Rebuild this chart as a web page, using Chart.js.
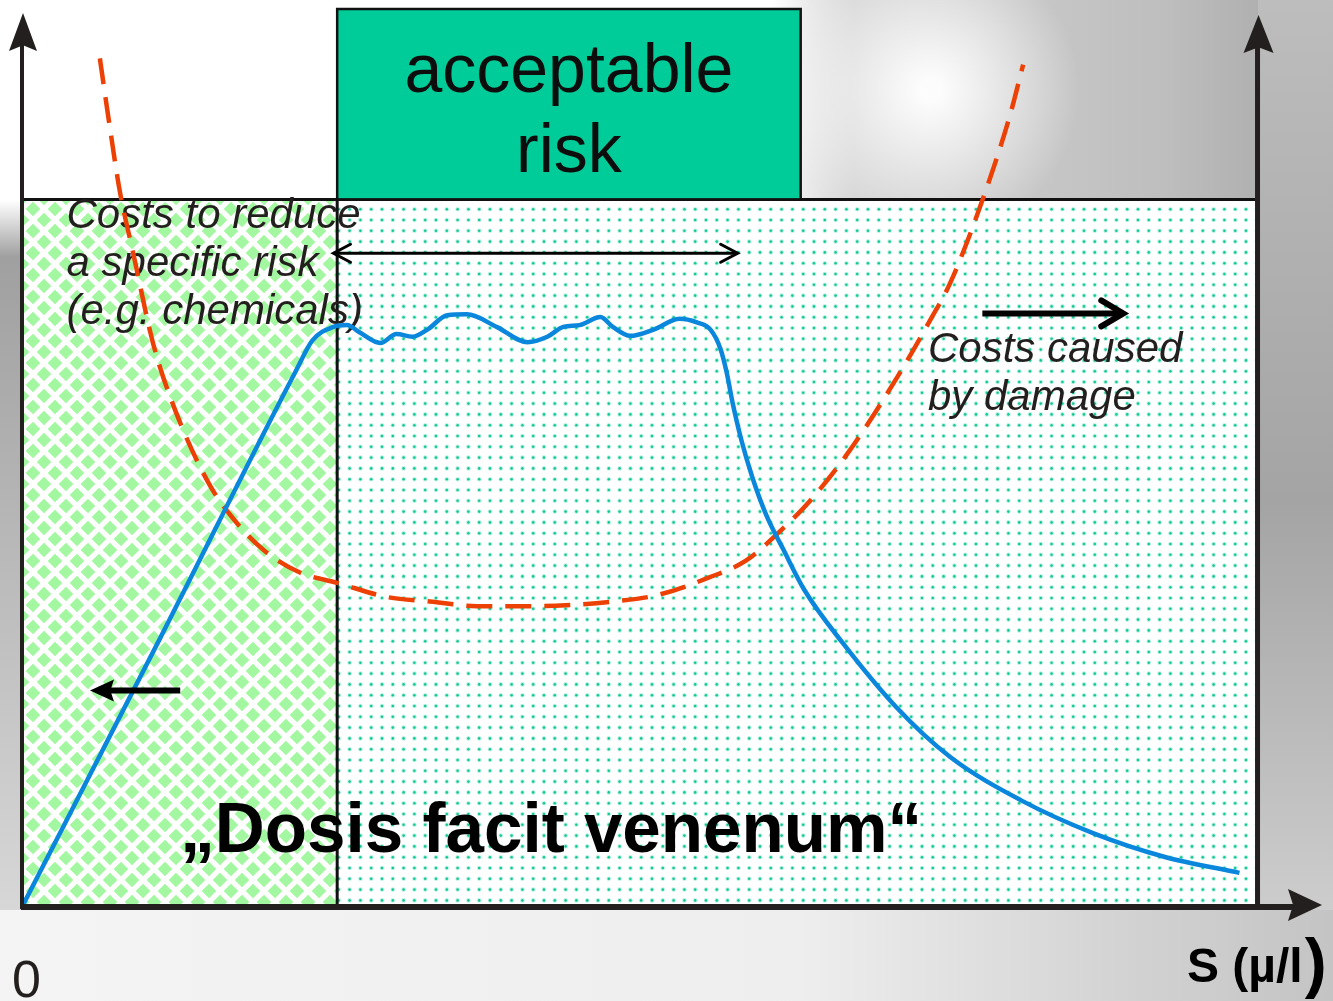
<!DOCTYPE html>
<html>
<head>
<meta charset="utf-8">
<script src="https://cdn.jsdelivr.net/npm/chart.js@4.4.1/dist/chart.umd.min.js"></script>
<style>
    html, body { margin: 0; padding: 0; background: #fff; }
</style>
</head>
<body>
<canvas id="riskChart" width="1333" height="1001"></canvas>
<script>
// Dose-response curve (blue): concentration S against effect
const doseS = [0, 11.2, 22.2, 23.5, 25.2, 26.3, 27.3, 29.0, 30.3, 31.6, 32.8, 34.4, 36.0, 38.4, 40.9, 42.5, 43.8, 45.1, 46.8, 47.8, 49.2, 51.1, 53.2, 54.6, 55.7, 56.5, 57.0, 57.5, 58.2, 59.1, 60.2, 61.6, 63.3, 66.4, 70.7, 75.1, 80.8, 86.7, 92.4, 98.5];
const doseLevel = [0, 30.0, 59.8, 63.1, 64.6, 64.8, 64.0, 62.8, 63.8, 63.5, 64.3, 65.9, 66.0, 64.6, 62.9, 63.5, 64.6, 64.8, 65.7, 64.6, 63.6, 64.3, 65.5, 65.1, 64.3, 62.2, 59.6, 56.1, 52.0, 47.8, 43.7, 39.8, 35.3, 29.4, 22.3, 16.7, 11.9, 8.2, 5.6, 3.8];

// Total cost curve (red, dashed)
const costS = [6.3, 7.1, 7.9, 9.0, 10.6, 12.4, 15.1, 17.0, 19.5, 22.4, 25.5, 29.6, 33.2, 36.8, 40.5, 44.0, 47.7, 51.3, 55.6, 58.6, 61.3, 63.8, 67.0, 70.9, 73.5, 75.1, 77.7, 79.9, 81.0];
const costLevel = [94.5, 86.9, 79.8, 72.8, 62.8, 55.3, 47.2, 43.4, 39.8, 37.3, 36.1, 34.5, 34.0, 33.5, 33.5, 33.6, 34.0, 34.7, 36.7, 38.6, 41.8, 45.3, 50.9, 59.2, 65.4, 69.5, 78.7, 88.0, 93.8];

// Zones along S: cost of reduction (left) and cost of damage (right)
const zoneStart = [0, 25.5];
const zoneEnd = [25.5, 99.8];
const zoneCeiling = 78.8;

// Acceptable risk window [from, to] on S, and the range arrow level
const acceptRange = [25.5, 63.0];
const acceptArrow = [25.2, 57.9];
const acceptArrowLevel = 72.8;

// Texts
const acceptLabel = ['acceptable', 'risk'];
const reduceLabel = ['Costs to reduce', 'a specific risk', '(e.g. chemicals)'];
const damageLabel = ['Costs caused', 'by damage'];
const mottoLabel = '\u201eDosis facit venenum\u201c';
const xAxisLabel = ['S (\u00b5/l', ')'];
const originLabel = '0';

const INK = '#231F1E';
const FONT = '"Liberation Sans", Arial, sans-serif';

function makeDiamondPattern(ctx) {
    const c = document.createElement('canvas');
    c.width = 22; c.height = 22;
    const p = c.getContext('2d');
    p.fillStyle = '#ffffff';
    p.fillRect(0, 0, 22, 22);
    p.fillStyle = '#a2f7a0';
    const diamond = (cx, cy, r) => {
        p.beginPath();
        p.moveTo(cx, cy - r); p.lineTo(cx + r, cy); p.lineTo(cx, cy + r); p.lineTo(cx - r, cy);
        p.closePath(); p.fill();
    };
    [[11, 11], [0, 0], [22, 0], [0, 22], [22, 22]].forEach(([cx, cy]) => diamond(cx, cy, 7.3));
    return ctx.createPattern(c, 'repeat');
}

function makeDotPattern(ctx) {
    const s = 10.8;
    const c = document.createElement('canvas');
    c.width = 54; c.height = 54;
    const p = c.getContext('2d');
    p.fillStyle = '#ffffff';
    p.fillRect(0, 0, 54, 54);
    for (let i = 0; i < 5; i++) {
        for (let j = 0; j < 5; j++) {
            const cx = 4 + i * s, cy = 4 + j * s;
            p.fillStyle = 'rgba(40,215,165,0.3)';
            p.beginPath(); p.arc(cx, cy, 2.3, 0, Math.PI * 2); p.fill();
            p.fillStyle = '#16c896';
            p.beginPath(); p.arc(cx, cy, 1.3, 0, Math.PI * 2); p.fill();
        }
    }
    return ctx.createPattern(c, 'repeat');
}

// Rough grey "photo" backdrop around the diagram
function paintBackdrop(ctx, w, h) {
    ctx.fillStyle = '#ffffff';
    ctx.fillRect(0, 0, w, h);

    let g = ctx.createLinearGradient(770, 0, w, 0);
    g.addColorStop(0, 'rgba(205,205,205,0)');
    g.addColorStop(0.15, 'rgba(205,205,205,0.9)');
    g.addColorStop(0.7, 'rgba(190,190,190,1)');
    g.addColorStop(1, 'rgba(165,165,165,1)');
    ctx.fillStyle = g;
    ctx.fillRect(770, 0, w - 770, 200);

    g = ctx.createRadialGradient(930, 90, 10, 930, 90, 150);
    g.addColorStop(0, 'rgba(255,255,255,0.95)');
    g.addColorStop(1, 'rgba(255,255,255,0)');
    ctx.fillStyle = g;
    ctx.fillRect(770, 0, 400, 200);

    g = ctx.createLinearGradient(0, 0, 0, h);
    g.addColorStop(0, '#bdbdbd');
    g.addColorStop(0.5, '#a4a4a4');
    g.addColorStop(1, '#d6d6d6');
    ctx.fillStyle = g;
    ctx.fillRect(1258, 0, w - 1258, h);

    g = ctx.createLinearGradient(0, 200, 0, 910);
    g.addColorStop(0, 'rgba(160,160,160,0)');
    g.addColorStop(0.08, 'rgba(160,160,160,1)');
    g.addColorStop(0.5, 'rgba(185,185,185,1)');
    g.addColorStop(1, 'rgba(215,215,215,1)');
    ctx.fillStyle = g;
    ctx.fillRect(0, 200, 22, 710);

    g = ctx.createLinearGradient(0, 0, w, 0);
    g.addColorStop(0, '#f4f4f4');
    g.addColorStop(0.6, '#eeeeee');
    g.addColorStop(0.85, '#d2d2d2');
    g.addColorStop(1, '#c4c4c4');
    ctx.fillStyle = g;
    ctx.fillRect(0, 910, w, h - 910);
}

function openHead(ctx, tx, ty, dir, len, half) {
    ctx.beginPath();
    ctx.moveTo(tx - dir * len, ty - half);
    ctx.lineTo(tx, ty);
    ctx.lineTo(tx - dir * len, ty + half);
    ctx.stroke();
}

// filled arrow head with a slight notch, pointing along (ux, uy)
function solidHead(ctx, tx, ty, ux, uy, len, half) {
    const px = -uy, py = ux;
    const bx = tx - ux * len, by = ty - uy * len;
    const nx = tx - ux * len * 0.85, ny = ty - uy * len * 0.85;
    ctx.beginPath();
    ctx.moveTo(tx, ty);
    ctx.lineTo(bx + px * half, by + py * half);
    ctx.lineTo(nx, ny);
    ctx.lineTo(bx - px * half, by - py * half);
    ctx.closePath();
    ctx.fill();
}

const diagramPlugin = {
    id: 'diagram',
    beforeDraw(chart) {
        const { ctx, scales: { x, y } } = chart;
        ctx.save();
        paintBackdrop(ctx, chart.width, chart.height);

        const fills = [makeDiamondPattern(ctx), makeDotPattern(ctx)];
        const top = y.getPixelForValue(zoneCeiling);
        const bottom = y.getPixelForValue(0);
        zoneStart.forEach((s, i) => {
            const l = x.getPixelForValue(s), r = x.getPixelForValue(zoneEnd[i]);
            ctx.fillStyle = fills[i];
            ctx.fillRect(l, top, r - l, bottom - top);
        });

        // zone outlines
        ctx.strokeStyle = '#111';
        ctx.lineWidth = 3;
        ctx.beginPath();
        ctx.moveTo(x.getPixelForValue(0), top);
        ctx.lineTo(x.getPixelForValue(zoneEnd[1]), top);
        ctx.moveTo(x.getPixelForValue(zoneEnd[0]), top);
        ctx.lineTo(x.getPixelForValue(zoneEnd[0]), bottom);
        ctx.stroke();

        // acceptable risk box
        const al = x.getPixelForValue(acceptRange[0]), ar = x.getPixelForValue(acceptRange[1]);
        const at = y.getPixelForValue(100);
        ctx.fillStyle = '#00cc99';
        ctx.fillRect(al, at, ar - al, top - at);
        ctx.lineWidth = 2.5;
        ctx.strokeRect(al, at, ar - al, top - at);

        ctx.fillStyle = '#0d0d0d';
        ctx.font = '68px ' + FONT;
        ctx.textAlign = 'center';
        ctx.textBaseline = 'alphabetic';
        const ac = (al + ar) / 2;
        ctx.fillText(acceptLabel[0], ac, y.getPixelForValue(90.8));
        ctx.fillText(acceptLabel[1], ac, y.getPixelForValue(81.8));
        ctx.restore();
    },
    beforeDatasetsDraw(chart) {
        const { ctx, scales: { x, y } } = chart;
        ctx.save();
        ctx.fillStyle = INK;
        ctx.textAlign = 'left';
        ctx.textBaseline = 'alphabetic';
        ctx.font = 'italic 42px ' + FONT;
        reduceLabel.forEach((t, i) => {
            ctx.fillText(t, x.getPixelForValue(3.6), y.getPixelForValue(75.6 - i * 5.35));
        });
        damageLabel.forEach((t, i) => {
            ctx.fillText(t, x.getPixelForValue(73.3), y.getPixelForValue(60.7 - i * 5.35));
        });
        ctx.fillStyle = '#000';
        ctx.font = 'bold 70px ' + FONT;
        ctx.fillText(mottoLabel, x.getPixelForValue(12.8), y.getPixelForValue(6.1), 742);
        ctx.restore();
    },
    afterDraw(chart) {
        const { ctx, scales: { x, y } } = chart;
        ctx.save();
        ctx.strokeStyle = '#000';
        ctx.fillStyle = '#000';
        ctx.lineCap = 'butt';

        // acceptable range double arrow
        const ry = y.getPixelForValue(acceptArrowLevel);
        const r0 = x.getPixelForValue(acceptArrow[0]), r1 = x.getPixelForValue(acceptArrow[1]);
        ctx.lineWidth = 3;
        ctx.beginPath(); ctx.moveTo(r0, ry); ctx.lineTo(r1, ry); ctx.stroke();
        ctx.lineCap = 'round';
        openHead(ctx, r0, ry, -1, 17, 9);
        openHead(ctx, r1, ry, 1, 17, 9);

        // arrow towards damage costs
        const dy = y.getPixelForValue(66.1);
        const d0 = x.getPixelForValue(77.7), d1 = x.getPixelForValue(89.1);
        ctx.lineCap = 'butt';
        ctx.lineWidth = 6;
        ctx.beginPath(); ctx.moveTo(d0, dy); ctx.lineTo(d1 - 2, dy); ctx.stroke();
        ctx.lineCap = 'round';
        ctx.lineJoin = 'miter';
        openHead(ctx, d1, dy, 1, 22, 13);

        // arrow towards reduction costs
        const ly = y.getPixelForValue(24.1);
        const l0 = x.getPixelForValue(12.8), l1 = x.getPixelForValue(5.5);
        ctx.lineCap = 'butt';
        ctx.beginPath(); ctx.moveTo(l0, ly); ctx.lineTo(l1 + 20, ly); ctx.stroke();
        solidHead(ctx, l1, ly, -1, 0, 24, 11);

        // axes with arrow heads
        const ox = x.getPixelForValue(0), oy = y.getPixelForValue(0);
        const rx = x.getPixelForValue(zoneEnd[1]) + 2;
        ctx.strokeStyle = INK;
        ctx.fillStyle = INK;
        ctx.lineCap = 'butt';
        ctx.lineWidth = 4;
        ctx.beginPath(); ctx.moveTo(ox, oy + 2); ctx.lineTo(ox, 40); ctx.stroke();
        solidHead(ctx, ox + 1, 13, 0, -1, 38, 14);
        ctx.lineWidth = 5;
        ctx.beginPath(); ctx.moveTo(rx, oy + 3); ctx.lineTo(rx, 45); ctx.stroke();
        solidHead(ctx, rx + 1, 15, 0, -1, 38, 15);
        ctx.lineWidth = 6;
        ctx.beginPath(); ctx.moveTo(ox - 1, oy); ctx.lineTo(1300, oy); ctx.stroke();
        solidHead(ctx, 1322, oy - 2, 1, 0, 34, 16);

        // axis texts
        ctx.textAlign = 'left';
        ctx.textBaseline = 'alphabetic';
        ctx.font = '52px ' + FONT;
        ctx.fillText(originLabel, ox - 10, oy + 90);
        ctx.fillStyle = '#000';
        ctx.font = 'bold 48px ' + FONT;
        ctx.fillText(xAxisLabel[0], 1187, oy + 75);
        const w0 = ctx.measureText(xAxisLabel[0]).width;
        ctx.font = 'bold 66px ' + FONT;
        ctx.fillText(xAxisLabel[1], 1187 + w0 + 2, oy + 78);
        ctx.restore();
    }
};

function initializeChart() {
    const ctx = document.getElementById('riskChart');
    new Chart(ctx, {
        type: 'line',
        data: {
            datasets: [
                {
                    label: 'Effect',
                    data: doseS.map((s, i) => ({ x: s, y: doseLevel[i] })),
                    borderColor: '#0a87dc',
                    borderWidth: 4.5,
                    pointRadius: 0,
                    cubicInterpolationMode: 'monotone',
                    fill: false
                },
                {
                    label: 'Costs',
                    data: costS.map((s, i) => ({ x: s, y: costLevel[i] })),
                    borderColor: '#ec4005',
                    borderWidth: 4.5,
                    borderDash: [26, 13],
                    pointRadius: 0,
                    cubicInterpolationMode: 'monotone',
                    fill: false
                }
            ]
        },
        options: {
            responsive: false,
            animation: false,
            layout: { padding: { left: 22, right: 75, top: 9, bottom: 94 } },
            scales: {
                x: { type: 'linear', min: 0, max: 100, display: false },
                y: { type: 'linear', min: 0, max: 100, display: false }
            },
            plugins: {
                legend: { display: false },
                tooltip: { enabled: false }
            }
        },
        plugins: [diagramPlugin]
    });
}

document.addEventListener('DOMContentLoaded', initializeChart);
</script>
</body>
</html>
